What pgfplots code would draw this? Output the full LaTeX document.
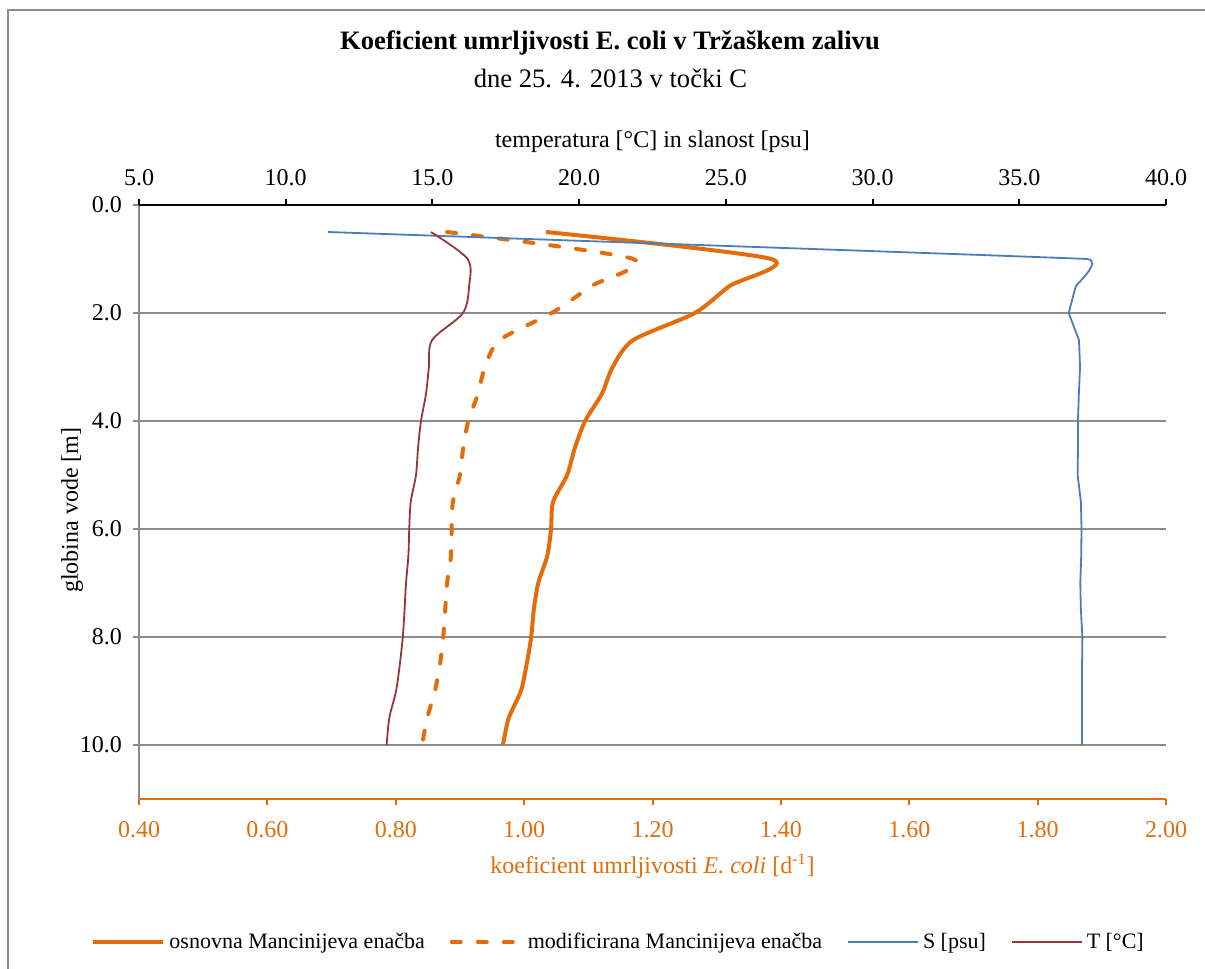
\documentclass[border=0pt]{standalone}
\usepackage{fontspec}
\setmainfont{Liberation Serif}
\usepackage{pgfplots}
\pgfplotsset{compat=1.18}
\usepackage{pgfplotstable}

\definecolor{korange}{HTML}{E46C0A}
\definecolor{sblue}{HTML}{4A7EBB}
\definecolor{tred}{HTML}{953735}
\definecolor{ggray}{HTML}{8C8C8C}
\definecolor{fgray}{HTML}{8C8C8C}

\pgfplotstableread{
d osn mod
0.5 1.034 0.880
1.0 1.385 1.170
1.5 1.320 1.105
2.0 1.266 1.043
2.5 1.170 0.962
3.0 1.138 0.939
3.5 1.121 0.928
4.0 1.095 0.913
4.5 1.079 0.905
5.0 1.067 0.900
5.5 1.045 0.889
6.0 1.042 0.887
6.5 1.036 0.886
7.0 1.022 0.880
7.5 1.015 0.877
8.0 1.011 0.874
8.5 1.004 0.869
9.0 0.995 0.861
9.5 0.976 0.849
10.0 0.967 0.841
}\koef

\pgfplotstableread{
d S T
0.5 11.44 14.95
1.0 37.30 16.20
1.5 36.93 16.25
2.0 36.69 16.04
2.5 37.03 14.99
3.0 37.07 14.88
3.5 37.03 14.78
4.0 37.00 14.61
4.5 37.00 14.51
5.0 36.99 14.44
5.5 37.10 14.26
6.0 37.12 14.21
6.5 37.11 14.18
7.0 37.08 14.10
7.5 37.10 14.05
8.0 37.15 13.99
8.5 37.14 13.89
9.0 37.14 13.76
9.5 37.14 13.53
10.0 37.14 13.44
}\ts

\pgfplotsset{
  /pgf/number format/assume math mode=true,
  base/.style={
    at={(69.5pt,-399.5pt)}, anchor=south west,
    scale only axis, width=513.5pt, height=297pt,
    ymin=0, ymax=11, y dir=reverse,
    tick align=outside, major tick length=3pt,
    ticklabel style={font=\fontsize{12}{14}\selectfont},
    label style={font=\fontsize{12}{14}\selectfont},
  },
}

\begin{document}
\begin{tikzpicture}
\useasboundingbox (0,0) rectangle (602.5pt,-484.5pt);
\begin{scope}
\clip (0,0) rectangle (602.5pt,-484.5pt);
\draw[fgray, line width=0.8pt] (4pt,-600pt) -- (4pt,-5pt) -- (700pt,-5pt);
\end{scope}

\begin{axis}[base,
  xmin=0.4, xmax=2.0,
  xtick={0.4,0.6,0.8,1.0,1.2,1.4,1.6,1.8,2.0},
  ytick={0,2,4,6,8,10},
  axis x line*=bottom, axis y line*=left,
  x axis line style={korange, line width=1pt},
  y axis line style={ggray, line width=1pt},
  xtick style={korange, line width=1pt},
  ytick style={ggray, line width=1pt},
  xticklabel style={text=korange, yshift=-4.5pt,
    /pgf/number format/fixed, /pgf/number format/fixed zerofill, /pgf/number format/precision=2},
  yticklabel style={xshift=-2pt,
    /pgf/number format/fixed, /pgf/number format/fixed zerofill, /pgf/number format/precision=1},
  ymajorgrids, major grid style={ggray, line width=0.7pt},
  xlabel={koeficient umrljivosti \textit{E. coli} [d\textsuperscript{-1}]},
  xlabel style={text=korange, at={(axis description cs:0.5,-0.1246)}, anchor=base},
  ylabel={globina vode [m]},
  ylabel style={at={(axis description cs:-0.0594,0.4865)}, anchor=base, rotate=0},
]
\addplot[korange, line width=2pt, smooth, tension=0.45] table[x=osn, y=d]{\koef};
\addplot[korange, line width=2pt, smooth, tension=0.45, line cap=round, dash pattern=on 4.5pt off 8.5pt] table[x=mod, y=d]{\koef};
\end{axis}

\begin{axis}[base,
  xmin=5, xmax=40,
  xtick={5,10,15,20,25,30,35,40},
  axis x line*=top, axis y line=none,
  x axis line style={black, line width=1pt},
  xtick style={black, line width=1pt},
  xticklabel style={yshift=3pt,
    /pgf/number format/fixed, /pgf/number format/fixed zerofill, /pgf/number format/precision=1},
  xlabel={temperatura [°C] in slanost [psu]},
  xlabel style={at={(axis description cs:0.5,1.096)}, anchor=base},
  legend style={at={(axis description cs:0.468,-0.2407)}, anchor=center, draw=none, fill=none,
    legend columns=4, font=\fontsize{11}{13}\selectfont,
    /tikz/every even column/.append style={column sep=10.5pt}},
  legend image code/.code={\draw[#1] (0pt,0pt) -- (35pt,0pt);},
]
\addlegendimage{korange, line width=2pt}
\addlegendentry{osnovna Mancinijeva enačba}
\addlegendimage{korange, line width=2pt, line cap=round, dash pattern=on 4.5pt off 8.5pt}
\addlegendentry{modificirana Mancinijeva enačba}
\addplot[sblue, line width=0.9pt, smooth, tension=0.08] table[x=S, y=d]{\ts};
\addlegendentry{S [psu]}
\addplot[tred, line width=0.9pt, smooth, tension=0.5] table[x=T, y=d]{\ts};
\addlegendentry{T [°C]}
\end{axis}

\begin{scope}[x=0.5pt, y=-0.5pt]
\node[anchor=base, font=\fontsize{13.3}{16}\selectfont\bfseries, inner sep=0pt] at (610,49) {Koeficient umrljivosti E. coli v Tržaškem zalivu};
\node[anchor=base, font=\fontsize{13.3}{16}\selectfont, inner sep=0pt] at (610.5,87) {dne 25. 4. 2013 v točki C};
\end{scope}
\end{tikzpicture}
\end{document}
